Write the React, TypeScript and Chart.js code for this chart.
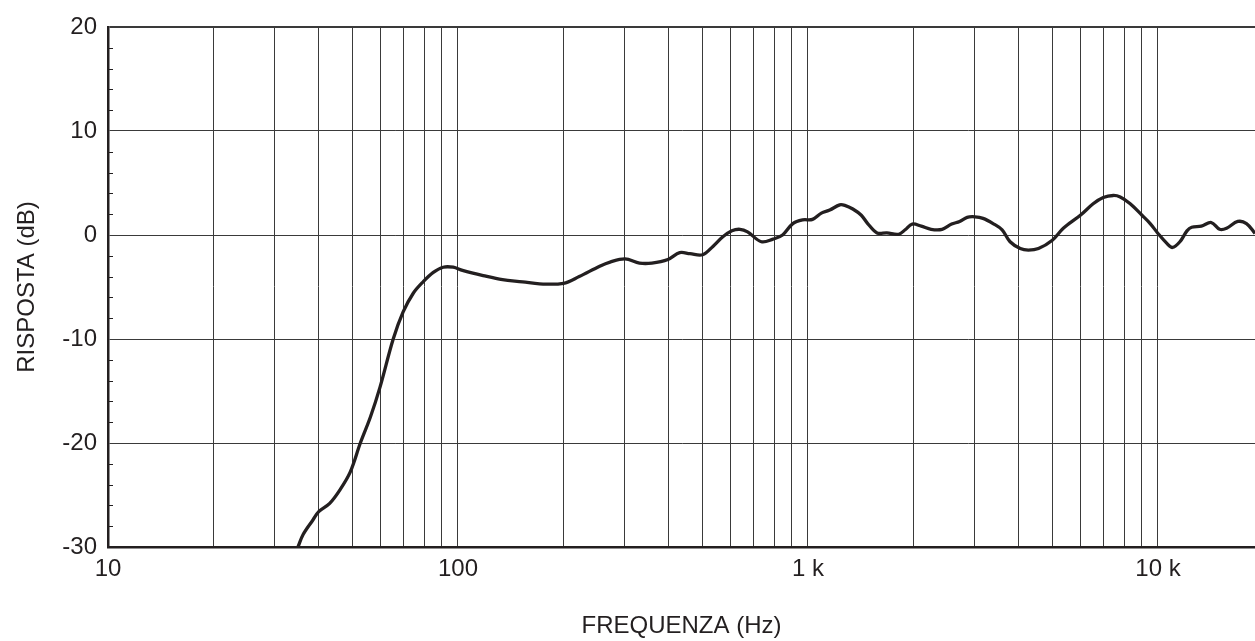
import { useEffect, useRef } from 'react';
import { Chart, registerables } from 'chart.js';

Chart.register(...registerables);

const freqHz = [
  34.9, 36.1, 38.5, 40, 43, 46, 49.2, 52.6, 56.2, 59.9, 65.3, 69.7, 74.5, 79.5, 85, 90.7, 96.9,
  103, 118, 134, 153, 171, 200, 222, 254, 272, 300, 330, 358, 398, 430, 460, 500, 535, 570,
  606, 639, 672, 736, 794, 846, 905, 965, 1030, 1092, 1154, 1232, 1274, 1343, 1420, 1481,
  1575, 1680, 1815, 1895, 1985, 2107, 2248, 2416, 2573, 2712, 2849, 3000, 3162, 3379, 3586,
  3779, 4041, 4262, 4555, 4989, 5364, 6000, 6527, 6975, 7451, 7800, 8330, 9000, 9500, 10000,
  10600, 11000, 11550, 12100, 12480, 13300, 14200, 15000, 15700, 16900, 17900, 18930,
];

const responseDb = [
  -30, -28.8, -27.4, -26.6, -25.8, -24.5, -22.8, -20.0, -17.5, -14.6, -10.0, -7.4, -5.6, -4.5,
  -3.6, -3.1, -3.1, -3.4, -3.9, -4.3, -4.5, -4.7, -4.65, -4.0, -3.0, -2.6, -2.3, -2.7, -2.7,
  -2.35, -1.7, -1.8, -1.9, -1.1, -0.2, 0.4, 0.55, 0.3, -0.65, -0.4, 0, 1.1, 1.45, 1.5, 2.1,
  2.4, 2.9, 2.85, 2.5, 1.9, 1.1, 0.2, 0.2, 0.07, 0.5, 1.05, 0.85, 0.55, 0.55, 1.05, 1.3, 1.7,
  1.75, 1.6, 1.1, 0.5, -0.65, -1.3, -1.45, -1.3, -0.5, 0.65, 1.9, 3.0, 3.6, 3.8, 3.65, 3.0,
  1.9, 1.1, 0.15, -0.8, -1.2, -0.65, 0.4, 0.75, 0.85, 1.2, 0.55, 0.65, 1.3, 1.1, 0.15,
];

const xMajorTicks = [10, 100, 1000, 10000];
const xMajorLabels = ['10', '100', '1 k', '10 k'];
const xGridMultipliers = [1, 2, 3, 4, 5, 6, 7, 8, 9];
const yMajorTicks = [-30, -20, -10, 0, 10, 20];
const yMinorTicks = [-28, -26, -24, -22, -18, -16, -14, -12, -8, -6, -4, -2, 2, 4, 6, 8, 12, 14, 16, 18];

const X_MIN = 10;
const X_MAX = 18930;
const Y_MIN = -30;
const Y_MAX = 20;

const INK = '#231f20';
const GRID = '#3a3a3a';
const FONT_FAMILY = "'Liberation Sans', Arial, Helvetica, sans-serif";

export default function App() {
  const canvasRef = useRef<HTMLCanvasElement>(null);

  useEffect(() => {
    const canvas = canvasRef.current;
    if (!canvas) return;

    const minorTickPlugin = {
      id: 'minorTicks',
      afterDraw(chart: any) {
        const y = chart.scales.y;
        const ctx = chart.ctx;
        const left = chart.chartArea.left;
        ctx.save();
        ctx.strokeStyle = INK;
        ctx.lineWidth = 1;
        for (const v of yMinorTicks) {
          const py = Math.round(y.getPixelForValue(v)) + 0.5;
          ctx.beginPath();
          ctx.moveTo(left, py);
          ctx.lineTo(left + 5, py);
          ctx.stroke();
        }
        ctx.restore();
      },
    };

    const chart = new Chart(canvas, {
      type: 'line',
      data: {
        datasets: [
          {
            data: freqHz.map((f, i) => ({ x: f, y: responseDb[i] })),
            borderColor: INK,
            borderWidth: 3.3,
            pointRadius: 0,
            tension: 0.35,
            fill: false,
          },
        ],
      },
      options: {
        responsive: false,
        animation: false,
        devicePixelRatio: 1,
        layout: { padding: { top: 27, right: 0, left: 0, bottom: 0 } },
        plugins: {
          legend: { display: false },
          tooltip: { enabled: false },
        },
        scales: {
          x: {
            type: 'logarithmic',
            min: X_MIN,
            max: X_MAX,
            afterBuildTicks: (scale: any) => {
              const ticks: { value: number }[] = [];
              for (const d of xMajorTicks) {
                for (const m of xGridMultipliers) {
                  const v = d * m;
                  if (v >= X_MIN && v <= X_MAX) ticks.push({ value: v });
                }
              }
              scale.ticks = ticks;
            },
            afterFit: (scale: any) => {
              scale.height = 94;
            },
            ticks: {
              autoSkip: false,
              maxRotation: 0,
              minRotation: 0,
              padding: 8,
              color: INK,
              font: { family: FONT_FAMILY, size: 24 },
              callback: (value: any) => {
                const idx = xMajorTicks.indexOf(Number(value));
                return idx >= 0 ? xMajorLabels[idx] : '';
              },
            },
            grid: {
              color: GRID,
              lineWidth: 1,
              drawTicks: false,
            },
            border: { color: INK, width: 2.5 },
            title: {
              display: true,
              text: 'FREQUENZA (Hz)',
              color: INK,
              font: { family: FONT_FAMILY, size: 24 },
              padding: { top: 0, bottom: 0 },
            },
          },
          y: {
            type: 'linear',
            min: Y_MIN,
            max: Y_MAX,
            afterBuildTicks: (scale: any) => {
              scale.ticks = yMajorTicks.map((v) => ({ value: v }));
            },
            afterFit: (scale: any) => {
              scale.width = 108;
            },
            ticks: {
              padding: 11,
              color: INK,
              font: { family: FONT_FAMILY, size: 24 },
            },
            grid: {
              color: GRID,
              lineWidth: (ctx: any) => (ctx.tick && ctx.tick.value === Y_MAX ? 2 : 1),
              drawTicks: false,
            },
            border: { color: INK, width: 2.5 },
            title: {
              display: true,
              text: 'RISPOSTA (dB)',
              color: INK,
              font: { family: FONT_FAMILY, size: 24 },
              padding: { top: 13, bottom: 0 },
            },
          },
        },
      },
      plugins: [minorTickPlugin],
    });

    return () => {
      chart.destroy();
    };
  }, []);

  return (
    <div style={{ position: 'absolute', left: 0, top: 0, width: 1255, height: 641, background: '#fff' }}>
      <canvas ref={canvasRef} width={1255} height={641} style={{ display: 'block' }} />
    </div>
  );
}
